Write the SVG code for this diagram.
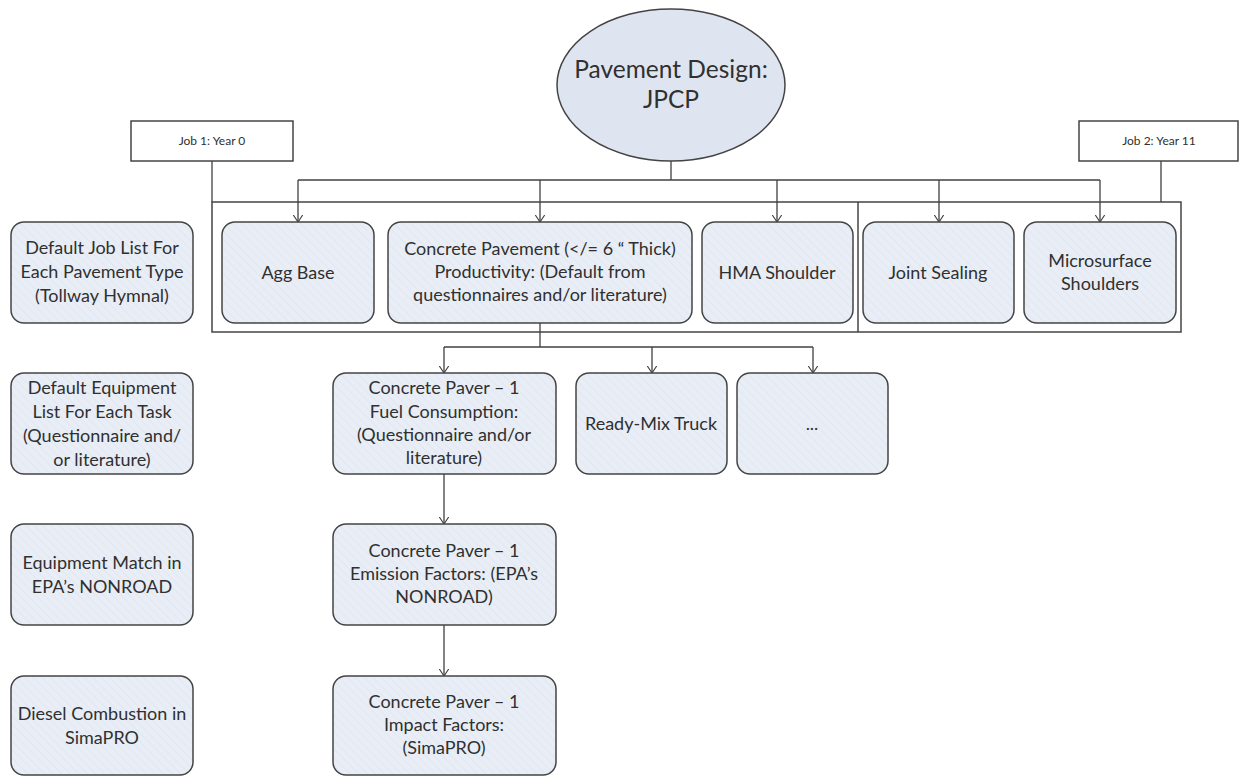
<svg xmlns="http://www.w3.org/2000/svg" width="1239" height="776" viewBox="0 0 1239 776">
  <defs>
    <pattern id="hatch" patternUnits="userSpaceOnUse" width="6" height="6" patternTransform="rotate(-45)">
      <rect width="6" height="6" fill="#e9eef6"/>
      <line x1="0" y1="0" x2="0" y2="6" stroke="#e1e7f1" stroke-width="2"/>
    </pattern>
    <marker id="arr" viewBox="0 0 8 10" refX="7.5" refY="5" markerWidth="8" markerHeight="10" markerUnits="userSpaceOnUse" orient="auto">
      <path d="M0,0 L7.5,5 L0,10" fill="none" stroke="#404040" stroke-width="1.1"/>
    </marker>
  </defs>
  <style>
    .box { fill: url(#hatch); stroke: #444; stroke-width: 1.5; }
    .plain { fill: #ffffff; stroke: #444; stroke-width: 1.5; }
    .frame { fill: none; stroke: #444; stroke-width: 1.5; }
    .ell { fill: #dfe5f0; stroke: #444; stroke-width: 1.5; }
    .t { font-family: Lato, "Liberation Sans", sans-serif; font-size: 18px; fill: #303030; text-anchor: middle; }
    .ts { font-family: Lato, "Liberation Sans", sans-serif; font-size: 12px; fill: #303030; text-anchor: middle; }
    .tl { font-family: Lato, "Liberation Sans", sans-serif; font-size: 24.5px; fill: #303030; text-anchor: middle; }
    .c { fill: none; stroke: #404040; stroke-width: 1.3; }
    .ca { fill: none; stroke: #404040; stroke-width: 1.3; marker-end: url(#arr); }
  </style>
  <rect width="1239" height="776" fill="#ffffff"/>

  <!-- container frame -->
  <g id="job-container">
    <rect class="frame" x="212" y="202" width="969" height="130"/>
    <line class="frame" x1="858" y1="202" x2="858" y2="332"/>
  </g>

  <!-- connectors -->
  <g id="connectors">
    <line class="c" x1="671" y1="161" x2="671" y2="180"/>
    <line class="c" x1="298" y1="180" x2="1100" y2="180"/>
    <line class="ca" x1="298" y1="180" x2="298" y2="222"/>
    <line class="ca" x1="540" y1="180" x2="540" y2="222"/>
    <line class="ca" x1="777" y1="180" x2="777" y2="222"/>
    <line class="ca" x1="939" y1="180" x2="939" y2="222"/>
    <line class="ca" x1="1100" y1="180" x2="1100" y2="222"/>
    <line class="c" x1="212" y1="161" x2="212" y2="202"/>
    <line class="c" x1="1161" y1="161" x2="1161" y2="202"/>
    <line class="c" x1="540" y1="323" x2="540" y2="347"/>
    <line class="c" x1="444" y1="347" x2="813" y2="347"/>
    <line class="ca" x1="444" y1="347" x2="444" y2="373"/>
    <line class="ca" x1="652" y1="347" x2="652" y2="373"/>
    <line class="ca" x1="813" y1="347" x2="813" y2="373"/>
    <line class="ca" x1="444" y1="474" x2="444" y2="524"/>
    <line class="ca" x1="444" y1="625" x2="444" y2="676"/>
  </g>

  <!-- top node -->
  <g id="pavement-design">
    <ellipse class="ell" cx="671" cy="85" rx="114" ry="76"/>
    <text class="tl" x="671" y="78">Pavement Design:</text>
    <text class="tl" x="671" y="108">JPCP</text>
  </g>

  <g id="job1">
    <rect class="plain" x="131" y="121" width="162" height="40"/>
    <text class="ts" x="212" y="145">Job 1: Year 0</text>
  </g>
  <g id="job2">
    <rect class="plain" x="1079" y="121" width="159" height="40"/>
    <text class="ts" x="1159" y="145">Job 2: Year 11</text>
  </g>

  <!-- left column -->
  <g id="label-jobs">
    <rect class="box" x="11" y="222" width="182" height="101" rx="13"/>
    <text class="t" x="102" y="254">Default Job List For</text>
    <text class="t" x="102" y="278">Each Pavement Type</text>
    <text class="t" x="102" y="302">(Tollway Hymnal)</text>
  </g>
  <g id="label-equipment">
    <rect class="box" x="11" y="373" width="182" height="101" rx="13"/>
    <text class="t" x="102" y="394">Default Equipment</text>
    <text class="t" x="102" y="418">List For Each Task</text>
    <text class="t" x="102" y="442">(Questionnaire and/</text>
    <text class="t" x="102" y="466">or literature)</text>
  </g>
  <g id="label-match">
    <rect class="box" x="11" y="524" width="182" height="101" rx="13"/>
    <text class="t" x="102" y="569">Equipment Match in</text>
    <text class="t" x="102" y="593">EPA’s NONROAD</text>
  </g>
  <g id="label-diesel">
    <rect class="box" x="11" y="676" width="182" height="99" rx="13"/>
    <text class="t" x="102" y="720">Diesel Combustion in</text>
    <text class="t" x="102" y="744">SimaPRO</text>
  </g>

  <!-- job row -->
  <g id="agg-base">
    <rect class="box" x="222" y="222" width="152" height="101" rx="13"/>
    <text class="t" x="298" y="279">Agg Base</text>
  </g>
  <g id="concrete-pavement">
    <rect class="box" x="388" y="222" width="304" height="101" rx="13"/>
    <text class="t" x="540" y="255">Concrete Pavement (&lt;/= 6 “ Thick)</text>
    <text class="t" x="540" y="278">Productivity: (Default from</text>
    <text class="t" x="540" y="301">questionnaires and/or literature)</text>
  </g>
  <g id="hma-shoulder">
    <rect class="box" x="702" y="222" width="151" height="101" rx="13"/>
    <text class="t" x="777" y="279">HMA Shoulder</text>
  </g>
  <g id="joint-sealing">
    <rect class="box" x="863" y="222" width="151" height="101" rx="13"/>
    <text class="t" x="938" y="279">Joint Sealing</text>
  </g>
  <g id="microsurface-shoulders">
    <rect class="box" x="1024" y="222" width="152" height="101" rx="13"/>
    <text class="t" x="1100" y="267">Microsurface</text>
    <text class="t" x="1100" y="290">Shoulders</text>
  </g>

  <!-- equipment row -->
  <g id="paver-fuel">
    <rect class="box" x="333" y="373" width="223" height="101" rx="13"/>
    <text class="t" x="444" y="394">Concrete Paver – 1</text>
    <text class="t" x="444" y="418">Fuel Consumption:</text>
    <text class="t" x="444" y="441">(Questionnaire and/or</text>
    <text class="t" x="444" y="464">literature)</text>
  </g>
  <g id="ready-mix">
    <rect class="box" x="576" y="373" width="151" height="101" rx="13"/>
    <text class="t" x="651" y="430">Ready-Mix Truck</text>
  </g>
  <g id="more-equipment">
    <rect class="box" x="737" y="373" width="151" height="101" rx="13"/>
    <text class="t" x="812" y="430">...</text>
  </g>
  <g id="paver-emission">
    <rect class="box" x="333" y="524" width="223" height="101" rx="13"/>
    <text class="t" x="444" y="557">Concrete Paver – 1</text>
    <text class="t" x="444" y="580">Emission Factors: (EPA’s</text>
    <text class="t" x="444" y="603">NONROAD)</text>
  </g>
  <g id="paver-impact">
    <rect class="box" x="333" y="676" width="223" height="99" rx="13"/>
    <text class="t" x="444" y="708">Concrete Paver – 1</text>
    <text class="t" x="444" y="731">Impact Factors:</text>
    <text class="t" x="444" y="754">(SimaPRO)</text>
  </g>
</svg>
